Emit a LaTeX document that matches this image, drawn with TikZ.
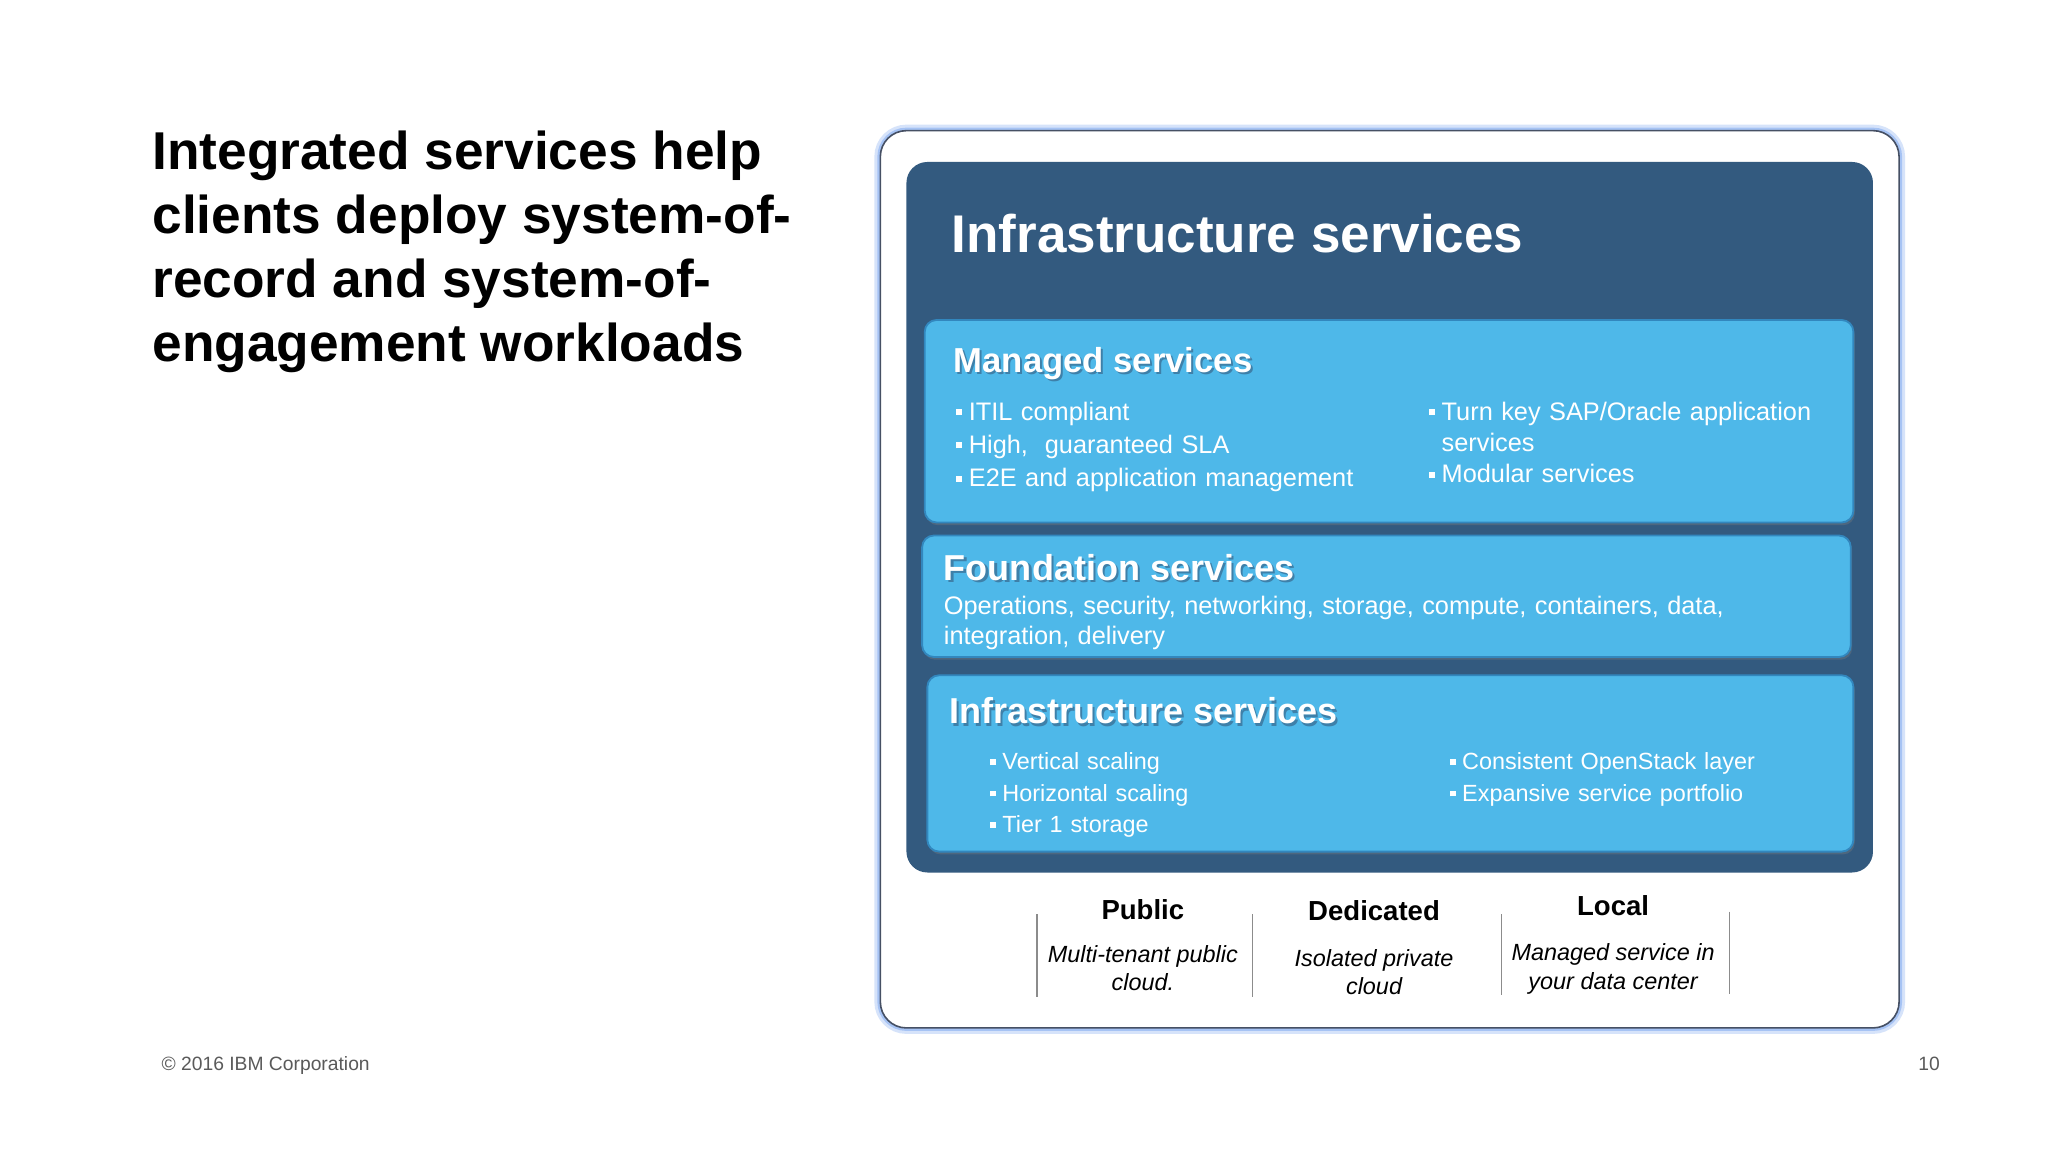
\documentclass[tikz,border=0pt]{standalone}
\usepackage{fontspec}
\setmainfont{Liberation Sans}
\usetikzlibrary{shadows}

\definecolor{panelblue}{RGB}{51,90,127}
\definecolor{boxblue}{RGB}{78,184,233}
\definecolor{boxedge}{RGB}{50,135,190}
\definecolor{glowblue}{RGB}{120,165,240}
\definecolor{frameedge}{RGB}{70,80,100}
\definecolor{footgray}{RGB}{90,90,90}
\definecolor{divgray}{RGB}{140,140,140}
\newcommand\bsq{\rule[.2em]{.24em}{.24em}\hspace{.28em}}
\newcommand\shtext[1]{\rlap{\kern.06em\raisebox{-.06em}{\color{panelblue!60!boxblue}#1}}#1}

\begin{document}
\begin{tikzpicture}[x=0.1mm,y=-0.1mm,
  svcbox/.style={fill=boxblue,draw=boxedge,line width=.4pt,rounded corners=.9mm,
    drop shadow={opacity=.35,shadow xshift=.3pt,shadow yshift=-.6pt}},
  boxhead/.style={anchor=north west,inner sep=0pt,text=white,
    font=\bfseries\fontsize{#1}{#1}\selectfont},
  boxtext/.style={anchor=north west,inner sep=0pt,align=left,text=white,
    font=\fontsize{5.52}{#1}\selectfont},
  colhead/.style={anchor=north,inner sep=0pt,font=\bfseries\fontsize{6}{7}\selectfont},
  colnote/.style={anchor=north,inner sep=0pt,align=center,
    font=\itshape\fontsize{5.1}{6.26}\selectfont},
  foot/.style={anchor=north west,inner sep=0pt,text=footgray,
    font=\fontsize{4.2}{5}\selectfont}]
  \useasboundingbox (0,0) rectangle (1568,882);
  \fill[white] (0,0) rectangle (1568,882);

  \node[anchor=north west,inner sep=0pt,align=left,
    font=\bfseries\fontsize{11.6}{13.94}\selectfont] (lead) at (116,99.5)
    {Integrated services help\\clients deploy system-of-\\record and system-of-\\engagement workloads};

  \draw[glowblue,opacity=.3,line width=2.6pt,rounded corners=2mm] (674,100) rectangle (1454,787);
  \draw[glowblue,opacity=.5,line width=1.3pt,rounded corners=2mm] (674,100) rectangle (1454,787);
  \draw[fill=white,draw=frameedge,line width=.35pt,rounded corners=2mm] (674,100) rectangle (1454,787);
  \fill[panelblue,rounded corners=1.6mm] (694,124) rectangle (1434,668);

  \node[boxhead=11.55] (title) at (728,163.5) {Infrastructure services};

  \draw[svcbox] (708,245) rectangle (1419,400);
  \node[boxhead=7.55] (mhead) at (729.5,265) {\shtext{Managed services}};
  \node[boxtext=7.25,text width=320] (mleft) at (731,307)
    {\bsq ITIL compliant\\\bsq High,\ \ guaranteed SLA\\\bsq E2E and application management};
  \node[boxtext=6.8,text width=320] (mright) at (1093,307)
    {\bsq Turn key SAP/Oracle application\\\hphantom{\bsq}services\\\bsq Modular services};

  \draw[svcbox] (706,410) rectangle (1417,503);
  \node[boxhead=7.85] (fhead) at (722,424) {\shtext{Foundation services}};
  \node[boxtext=6.66,text width=680] (fbody) at (722,455.5)
    {Operations, security, networking, storage, compute, containers, data,\\integration, delivery};

  \draw[svcbox] (710,517) rectangle (1419,652);
  \node[boxhead=7.85] (ihead) at (726,533.5) {\shtext{Infrastructure services}};
  \node[boxtext=6.9,text width=320,font=\fontsize{5.1}{6.85}\selectfont] (ileft) at (757.5,575.5)
    {\bsq Vertical scaling\\\bsq Horizontal scaling\\\bsq Tier 1 storage};
  \node[boxtext=6.9,text width=300,font=\fontsize{5.1}{6.85}\selectfont] (iright) at (1109.5,575.5)
    {\bsq Consistent OpenStack layer\\\bsq Expansive service portfolio};

  \node[colhead] (public) at (875,688) {Public};
  \node[colhead] (dedicated) at (1052,689) {Dedicated};
  \node[colhead] (local) at (1235,685) {Local};
  \node[colnote] (publicnote) at (875,723) {Multi-tenant public\\cloud.};
  \node[colnote] (dedicatednote) at (1052,726) {Isolated private\\cloud};
  \node[colnote] (localnote) at (1235,721.5) {Managed service in\\your data center};
  \foreach \x/\ya/\yb in {794/700/763,959/700/763,1149.5/700/762,1324/698/761}
    \draw[divgray,line width=.3pt] (\x,\ya) -- (\x,\yb);

  \node[foot] (copyright) at (123,808.5) {© 2016 IBM Corporation};
  \node[foot,anchor=north] (pageno) at (1477,808.5) {10};
\end{tikzpicture}
\end{document}
